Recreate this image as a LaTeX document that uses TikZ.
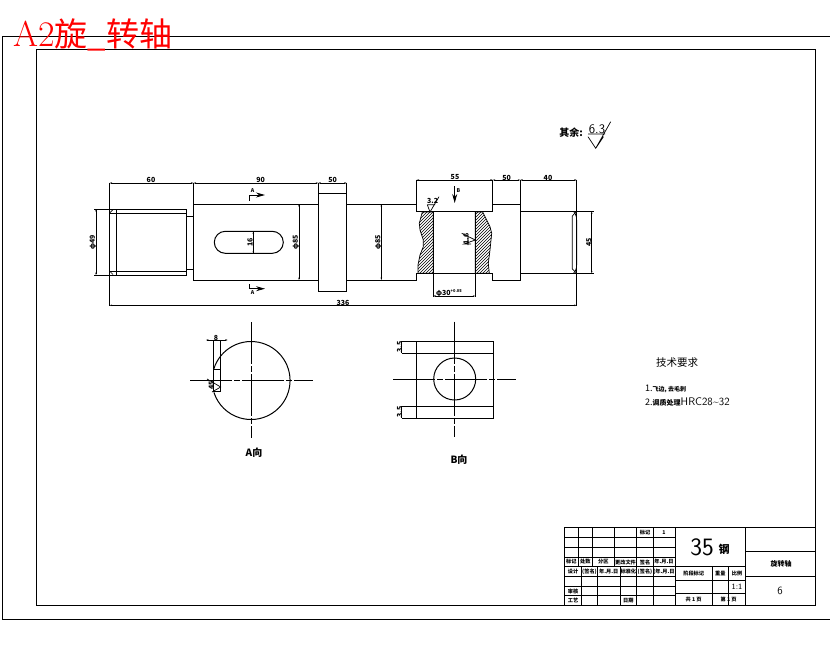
\documentclass[tikz,border=0pt]{standalone}
\usepackage{fontspec}
\newfontfamily\cjk{Noto Sans CJK SC}
\usetikzlibrary{arrows,arrows.meta,patterns}
\tikzset{
 part/.style={line width=1pt},
 thin part/.style={line width=0.7pt},
 centre/.style={line width=0.8pt,dash pattern=on 42pt off 2pt on 6pt off 2pt},
 dimline/.style={line width=0.8pt,{Stealth[length=2.5pt,width=1.5pt]}-{Stealth[length=2.5pt,width=1.5pt]}},
 extline/.style={line width=0.8pt},
 viewarrow/.style={line width=0.8pt,-{Stealth[length=9pt,width=5pt]}},
 dimtext/.style={inner sep=0pt,font=\cjk\bfseries\fontsize{7}{7}\selectfont},
 tiny text/.style={inner sep=0pt,font=\cjk\bfseries\fontsize{5.2}{5.2}\selectfont},
 head text/.style={inner sep=0pt,font=\cjk\fontsize{10.5}{10.5}\selectfont},
 plain text/.style={inner sep=0pt,anchor=west,font=\cjk\fontsize{9}{9}\selectfont}
 }
\begin{document}
\begin{tikzpicture}[x=1pt,y=-1pt]
      \useasboundingbox (0,0) rectangle (830,654);
      % frames
      \draw[part] (830,36) -- (2,36) -- (2,619) -- (830,619);
      \draw[part] (36,49) rectangle (815,605);
      \node[inner sep=0pt,text=red,anchor=west] (title) at (13,35) {\fontsize{36}{36}\selectfont A2\cjk\fontsize{33}{33}\selectfont 旋\_转轴};
      % shaft
      \draw[part] (109.5,209) rectangle (186.7,275);
      \draw[part] (109.5,213) -- (186.7,213) (109.5,271) -- (186.7,271);
      \draw[part] (116,209) -- (116,275);
      \draw[thin part] (109.5,213) -- (113,209.5) (109.5,271) -- (113,274.5);
      \draw[part] (186.7,216.7) -- (193.5,216.7) (186.7,269) -- (193.5,269);
      \draw[part] (193.5,204) rectangle (318.3,280);
      \draw[part] (318.3,193.3) rectangle (346.7,291);
      \draw[part] (346.7,204) -- (416.7,204) (346.7,280) -- (416.7,280) -- (416.7,273.3) -- (492.7,273.3) -- (492.7,280) -- (520.3,280) -- (520.3,204) -- (492.7,204);
      \draw[part] (416.7,180) rectangle (492.7,211.3);
      \draw[part] (520.3,211.3) -- (576.7,211.3) (520.3,273.3) -- (576.7,273.3);
      \draw[part] (433.3,211.3) -- (433.3,273.3) (475.3,211.3) -- (475.3,273.3);
      \draw[thin part] (576.7,211.3) -- (572.3,216) -- (572.3,269) -- (576.7,273.3);
      \draw[thin part] (573.5,211.3) .. controls (576.7,215) and (576.7,218) .. (576.7,224) -- (576.7,261) .. controls (576.7,267) and (576.7,270) .. (573.5,273.3);
      % keyway
      \draw[part] (225.3,231.3) -- (272.3,231.3) arc[start angle=90,end angle=-90,radius=11pt] -- (225.3,253.3) arc[start angle=270,end angle=90,radius=11pt];
      \draw[part] (253.3,231.3) -- (253.3,253.3);
      % section hatching
      \draw[thin part,pattern=north east lines] (433.3,212) -- (422.3,212) -- (419.3,223.3) -- (420,230) -- (423.3,240) -- (423.3,246.7) -- (420,255) -- (418,265) -- (418,273.3) -- (433.3,273.3) -- cycle;
      \draw[thin part,pattern=north east lines] (475.3,212) -- (482.7,212) -- (490,226.7) -- (491.7,233.3) -- (490,250) -- (488.3,263.3) -- (489.3,273.3) -- (475.3,273.3) -- cycle;
      % extension lines
      \draw[extline] (109.5,183) -- (109.5,306) (193.5,183) -- (193.5,204) (318.3,183) -- (318.3,193.3) (346.7,183) -- (346.7,193.3);
      \draw[extline] (520.3,180) -- (520.3,204) (576.7,180) -- (576.7,306);
      \draw[extline] (94,209) -- (109.5,209) (94,275) -- (109.5,275);
      \draw[extline] (576.7,211.3) -- (594,211.3) (576.7,273.3) -- (594,273.3);
      \draw[extline] (433.3,273.3) -- (433.3,297) (475.3,273.3) -- (475.3,297);
      % dimensions
      \draw[dimline] (109.5,183) -- (193.5,183);
      \draw[dimline] (193.5,183) -- (318.3,183);
      \draw[dimline] (318.3,183) -- (346.7,183);
      \draw[dimline] (416.7,180) -- (492.7,180);
      \draw[dimline] (492.7,180) -- (520.3,180);
      \draw[dimline] (520.3,180) -- (576.7,180);
      \draw[dimline] (109.5,305.3) -- (576.7,305.3);
      \draw[dimline] (96,209) -- (96,275);
      \draw[dimline] (299,204) -- (299,280);
      \draw[dimline] (381.3,204) -- (381.3,280);
      \draw[dimline] (591.7,211.3) -- (591.7,273.3);
      \draw[dimline] (433.3,296) -- (475.3,296);
      \draw[dimline] (253.3,231.3) -- (253.3,253.3);
      \node[dimtext] (d60) at (151,180) {60};
      \node[dimtext] (d90) at (260.7,180) {90};
      \node[dimtext] (d50a) at (332.7,180) {50};
      \node[dimtext] (d55) at (455,177.5) {55};
      \node[dimtext] (d50b) at (506.7,177.5) {50};
      \node[dimtext] (d40) at (548,177.5) {40};
      \node[dimtext] (d336) at (343,302.5) {336};
      \node[dimtext,rotate=90] (dphi49) at (93,242) {φ49};
      \node[dimtext,rotate=90] (dphi85a) at (296,242) {φ85};
      \node[dimtext,rotate=90] (dphi85b) at (378.5,242) {φ85};
      \node[dimtext,rotate=90] (d45) at (589,242) {45};
      \node[dimtext,rotate=90] (d16) at (250,242) {16};
      \node[dimtext] (dphi30) at (449,293) {φ30\raisebox{3pt}{\fontsize{4}{4}\selectfont +0.05}};
      % section arrows
      \draw[viewarrow] (249.7,200.7) -- (249.7,195) -- (265,195);
      \draw[viewarrow] (249.7,284) -- (249.7,288.7) -- (265,288.7);
      \draw[viewarrow] (454.7,186) -- (454.7,203);
      \node[tiny text] (a1) at (252.5,191) {A};
      \node[tiny text] (a2) at (252.5,293) {A};
      \node[tiny text] (b1) at (458.5,191) {B};
      % roughness marks
      \draw[thin part] (427.3,204.7) -- (430,212) -- (439,196.7) (427.3,204.7) -- (435,204.7);
      \node[dimtext] (r32) at (432.7,201) {3.2};
      \draw[thin part] (461.7,233.3) -- (475.3,240) -- (464,244) -- (471,244) (468,236.7) -- (468,245);
      \node[dimtext,rotate=90] (r16) at (466,239) {1.6};
      \node[inner sep=0pt,font=\cjk\bfseries\fontsize{10}{10}\selectfont] (rest) at (571,133) {其余:};
      \draw[thin part] (588,134) -- (605,134) (588,136.7) -- (595.7,148.3) -- (603.5,136.7) (595.7,148.3) -- (610.7,121.7);
      \node[inner sep=0pt,font=\sffamily\fontsize{13}{13}\selectfont] (r63) at (597,129) {6.3};
      % view A
      \draw[part] (213.7,369.3) arc[start angle=163.3,end angle=-162.3,radius=39pt];
      \draw[part] (213.3,340) -- (213.3,391.7) -- (220.7,391.7) -- (220.7,340);
      \draw[part] (213.3,369.3) -- (220.7,369.3);
      \draw[centre] (190,380.3) -- (313,380.3);
      \draw[centre] (251.3,322) -- (251.3,437.7);
      \draw[dimline] (206,340) -- (227.7,340);
      \node[dimtext] (d8) at (216,337.5) {8};
      \draw[thin part] (207,379) -- (220.7,387) -- (212,392);
      \node[dimtext,rotate=90] (d45deg) at (211.5,385) {45};
      \node[inner sep=0pt,font=\cjk\bfseries\fontsize{10}{10}\selectfont] (viewa) at (254,453) {A向};
      % view B
      \draw[part] (416.3,341) rectangle (493.3,418.3);
      \draw[part] (416.3,353.3) -- (493.3,353.3) (416.3,406.3) -- (493.3,406.3);
      \draw[part] (454.7,379) circle[radius=21pt];
      \draw[centre] (393.3,379) -- (516,379);
      \draw[centre] (454.7,321.7) -- (454.7,436.7);
      \draw[extline] (401.7,341) -- (416.3,341) (401.7,353.3) -- (416.3,353.3) (401.7,406.3) -- (416.3,406.3) (401.7,418.3) -- (416.3,418.3);
      \draw[extline] (401.7,341) -- (401.7,353.3) (401.7,406.3) -- (401.7,418.3);
      \node[dimtext,rotate=90] (d35a) at (399.5,347) {3.5};
      \node[dimtext,rotate=90] (d35b) at (399.5,412) {3.5};
      \node[inner sep=0pt,font=\cjk\bfseries\fontsize{10}{10}\selectfont] (viewb) at (459,460) {B向};
      % technical notes
      \node[head text] (notes) at (677,363) {技术要求};
      \node[plain text] (note1) at (645,389) {1.\fontsize{6}{6}\selectfont\bfseries 飞边, 去毛刺};
      \node[plain text] (note2) at (645,402) {2.{\fontsize{7}{7}\selectfont\bfseries 调质处理}\sffamily\fontsize{11}{11}\selectfont HRC28\char`\~32};
      % title block
      \draw[part] (564.3,527.7) rectangle (815,605.7);
      \draw[part] (675,527.7) -- (675,605.7) (745.7,527.7) -- (745.7,605.7);
      \draw[part] (564.3,537.3) -- (675,537.3) (564.3,547.3) -- (675,547.3) (564.3,557.3) -- (675,557.3) (564.3,566.3) -- (745.7,566.3) (564.3,576.3) -- (675,576.3) (564.3,586.3) -- (675,586.3) (564.3,595.7) -- (675,595.7);
      \draw[part] (578.3,527.7) -- (578.3,566.3) (592.3,527.7) -- (592.3,566.3) (614.3,527.7) -- (614.3,566.3) (636.7,527.7) -- (636.7,605.7) (653.3,527.7) -- (653.3,605.7);
      \draw[part] (581.7,566.3) -- (581.7,605.7) (597.3,566.3) -- (597.3,605.7) (620,566.3) -- (620,605.7);
      \draw[part] (675,580.7) -- (745.7,580.7) (675,593) -- (745.7,593) (712.3,566.3) -- (712.3,605.7) (728.3,566.3) -- (728.3,605.7);
      \draw[part] (745.7,551.7) -- (815,551.7) (745.7,576.3) -- (815,576.3);
      \node[tiny text] (t1) at (645,533) {标记};
      \node[tiny text] (t2) at (664,533) {1};
      \node[tiny text] (t3) at (571.3,562) {标记};
      \node[tiny text] (t4) at (585.3,562) {处数};
      \node[tiny text] (t5) at (603.3,562) {分区};
      \node[tiny text] (t6) at (625.5,562) {更改文件};
      \node[tiny text] (t7) at (645,562) {签名};
      \node[tiny text] (t8) at (664,562) {年.月.日};
      \node[tiny text] (t9) at (573,571.5) {设计};
      \node[tiny text] (t10) at (589.5,571.5) {(签名)};
      \node[tiny text] (t11) at (608.7,571.5) {年.月.日};
      \node[tiny text] (t12) at (628.3,571.5) {标准化};
      \node[tiny text] (t13) at (645,571.5) {(签名)};
      \node[tiny text] (t14) at (664,571.5) {(年.月.日};
      \node[tiny text] (t15) at (573,591) {审核};
      \node[tiny text] (t16) at (573,600.7) {工艺};
      \node[tiny text] (t17) at (628.3,600.7) {日期};
      \node[tiny text] (t18) at (693.7,573.5) {阶段标记};
      \node[tiny text] (t19) at (720.3,573.5) {重量};
      \node[tiny text] (t20) at (737,573.5) {比例};
      \node[tiny text] (t21) at (693.7,599.5) {共 1 页};
      \node[tiny text] (t22) at (728.7,599.5) {第 1 页};
      \node[dimtext,font=\sffamily\fontsize{8}{8}\selectfont] (scale1) at (737,587) {1:1};
      \node[inner sep=0pt,font=\sffamily\fontsize{25}{25}\selectfont] (mat35) at (702,547) {35};
      \node[inner sep=0pt,font=\cjk\bfseries\fontsize{11}{11}\selectfont] (matgang) at (724,549) {钢};
      \node[inner sep=0pt,font=\cjk\bfseries\fontsize{7}{7}\selectfont] (partname) at (781,563.5) {旋转轴};
      \node[inner sep=0pt,font=\sffamily\fontsize{11}{11}\selectfont] (sheet) at (780,591) {6};
    \end{tikzpicture}
\end{document}
